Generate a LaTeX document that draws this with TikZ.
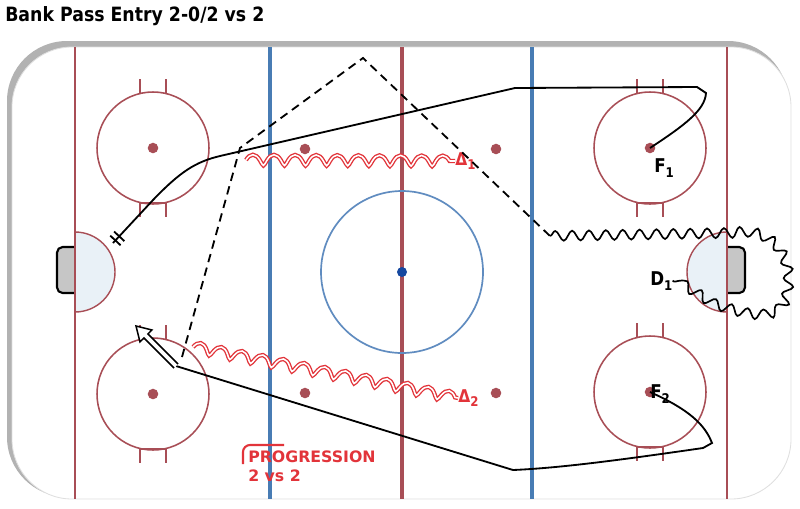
\documentclass[tikz,border=0pt]{standalone}
\usepackage{fontspec}
\newfontfamily\drillfont{DejaVu Sans}[FakeStretch=0.88]
\newfontfamily\progfont{DejaVu Sans}
\usetikzlibrary{arrows, calc, decorations.pathmorphing, positioning, shapes}

\definecolor{rinkred}{RGB}{168,78,86}
\definecolor{rinkblue}{RGB}{72,124,180}
\definecolor{circblue}{RGB}{96,140,192}
\definecolor{dotblue}{RGB}{22,72,160}
\definecolor{creasefill}{RGB}{233,241,247}
\definecolor{playred}{RGB}{226,52,58}

\tikzset{
	faceoff/.style={draw=rinkred, line width=1.1pt},
	spot/.style={circle, fill=rinkred, inner sep=0pt, minimum size=7.5pt},
	skate/.style={black, line width=1.3pt},
	pass/.style={black, line width=1.3pt, dash pattern=on 6pt off 4pt},
	puck/.style={black, line width=1.2pt, decorate, decoration={snake, amplitude=3.5pt, segment length=12pt, post length=0pt}},
	backskate/.style={playred, double=white, double distance=1.1pt, line width=.95pt, decorate, decoration={coil, aspect=.3, amplitude=3.8pt, segment length=15pt}},
	player/.style={font=\drillfont\bfseries\fontsize{13.5}{13.5}\selectfont, inner sep=0pt},
}
\newcommand{\plsub}[1]{\raisebox{-.5ex}{\fontsize{9.5}{9.5}\selectfont #1}}

\begin{document}
\begin{tikzpicture}[x=0.025cm, y=-0.025cm]
		\useasboundingbox (0,0) rectangle (800,508);
		\node[anchor=base west, font=\drillfont\bfseries\fontsize{14}{14}\selectfont, inner sep=0pt] (title) at (5,21) {Bank Pass Entry 2-0/2 vs 2};
		% boards
		\fill[gray!60, rounded corners=1.5cm] (7,41) rectangle (788,497);
		\fill[white, rounded corners=1.5cm] (12,47) rectangle (791,499);
		\draw[gray!25, line width=.6pt, rounded corners=1.5cm] (12,47) rectangle (791,499);
		% creases and nets
		\filldraw[fill=creasefill, draw=rinkred, line width=1pt] (75,232) arc[start angle=-90, end angle=90, radius=40] -- cycle;
		\filldraw[fill=creasefill, draw=rinkred, line width=1pt] (727,232) arc[start angle=270, end angle=90, radius=40] -- cycle;
		\filldraw[fill=gray!45, draw=black, line width=1.5pt, rounded corners=4pt] (75,247) -- (57,247) -- (57,293) -- (75,293);
		\filldraw[fill=gray!45, draw=black, line width=1.5pt, rounded corners=4pt] (727,247) -- (745,247) -- (745,293) -- (727,293);
		% lines
		\draw[rinkred, line width=1.3pt] (75,47) -- (75,499);
		\draw[rinkred, line width=1.3pt] (727,47) -- (727,499);
		\draw[rinkblue, line width=2.4pt] (270,47) -- (270,499);
		\draw[rinkblue, line width=2.4pt] (532,47) -- (532,499);
		\draw[rinkred, line width=2.2pt] (402,47) -- (402,499);
		\draw[circblue, line width=1.2pt] (402,272) circle[radius=81];
		\fill[dotblue] (402,272) circle[radius=5];
		% faceoff circles
		\foreach \name/\cx/\cy in {lt/153/148, lb/153/394, rt/650/148, rb/650/392} {
			\draw[faceoff] (\cx,\cy) circle[radius=56];
			\draw[faceoff] (\cx-13,\cy-55) -- (\cx-13,\cy-69) (\cx+13,\cy-55) -- (\cx+13,\cy-69);
			\draw[faceoff] (\cx-13,\cy+55) -- (\cx+13,\cy+55) (\cx-13,\cy+55) -- (\cx-13,\cy+69) (\cx+13,\cy+55) -- (\cx+13,\cy+69);
			\node[spot] (\name) at (\cx,\cy) {};
		}
		\foreach \cx/\cy in {305/149, 496/149, 305/393, 496/393}
			\node[spot] at (\cx,\cy) {};

		% players
		\node[player, anchor=base west] (F1) at (654,172) {F\plsub{1}};
		\node[player, anchor=base west] (F2) at (650,398) {F\plsub{2}};
		\node[player, anchor=base west] (D1) at (650,285) {D\plsub{1}};
		\node[player, playred, anchor=base west, font=\drillfont\bfseries\fontsize{12.5}{12.5}\selectfont] (X1) at (455,165) {Δ\plsub{1}};
		\node[player, playred, anchor=base west, font=\drillfont\bfseries\fontsize{12.5}{12.5}\selectfont] (X2) at (458,402) {Δ\plsub{2}};

		\coordinate (recv) at (176,366);
		\coordinate (arrtip) at (136,326);
		\coordinate (passA) at (182,357);
		\coordinate (bankpt) at (550,236);
		\coordinate (f1turn) at (153,200);
		\coordinate (f1end) at (113,243);

		% F1 skate
		\draw[skate] (rt.center) .. controls (685,125) and (705,110) .. (706,93) -- (697,87) -- (515,88) -- (220,156) .. controls (195,162) and (180,172) .. (f1turn) -- (f1end);
		\draw[skate] ($(f1end)!2.5pt!(f1turn)!5pt!90:(f1turn)$) -- ($(f1end)!2.5pt!(f1turn)!5pt!-90:(f1turn)$);
		\draw[skate] ($(f1end)!6.5pt!(f1turn)!5pt!90:(f1turn)$) -- ($(f1end)!6.5pt!(f1turn)!5pt!-90:(f1turn)$);
		% F2 skate
		\draw[skate] (rb.center) .. controls (690,410) and (705,425) .. (712,443) -- (703,448) .. controls (620,460) and (560,468) .. (513,470) -- (500,466) -- (recv);
		\coordinate (arrbase) at ($(arrtip)!10pt!(recv)$);
		\draw[black, line width=1.1pt, fill=white] ($(recv)!2pt!90:(arrtip)$) -- ($(arrbase)!2pt!-90:(recv)$) -- ($(arrbase)!6pt!-90:(recv)$) -- (arrtip) -- ($(arrbase)!6pt!90:(recv)$) -- ($(arrbase)!2pt!90:(recv)$) -- ($(recv)!2pt!-90:(arrtip)$);
		% bank pass and D1
		\draw[pass] (passA) -- (240,148) -- (363,58) -- (bankpt);
		\draw[puck] (bankpt) -- (728,233) .. controls (772,224) and (794,262) .. (782,300) .. controls (772,324) and (740,314) .. (710,304) -- (D1.east);
		% backskating
		\draw[backskate] (246,160) -- (X1.west);
		\draw[backskate] (193,347) -- (X2.west);

		\draw[playred, line width=1.5pt, rounded corners=5pt] (243,464) -- (243,445) -- (284,445);
		\node[anchor=base west, inner sep=0pt, playred, font=\progfont\bfseries\fontsize{11.2}{11.2}\selectfont] (prog) at (248,462) {PROGRESSION};
		\node[anchor=base west, inner sep=0pt, playred, font=\progfont\bfseries\fontsize{11.2}{11.2}\selectfont] (prog2) at (248,481) {2 vs 2};
\end{tikzpicture}
\end{document}
